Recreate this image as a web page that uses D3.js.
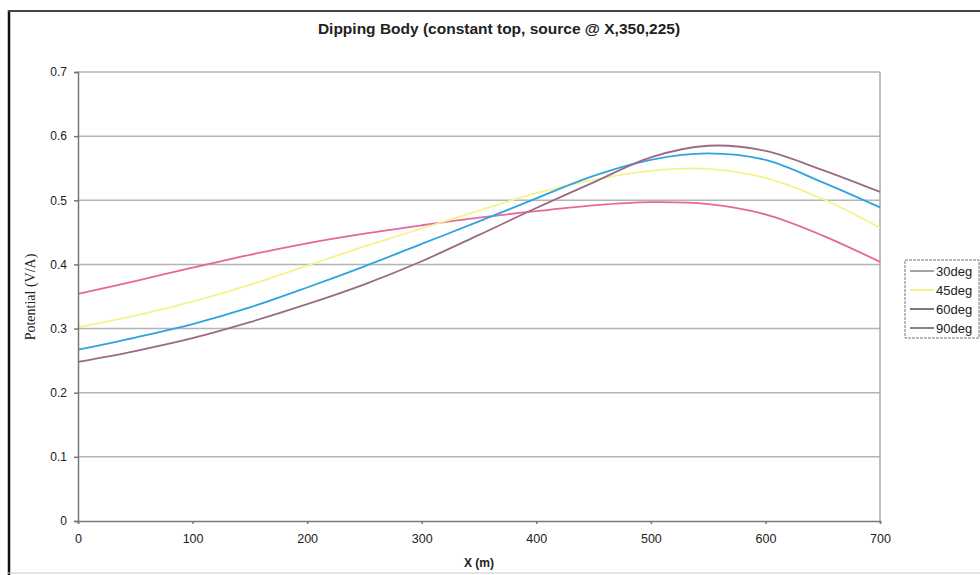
<!DOCTYPE html>
<html>
<head>
<meta charset="utf-8">
<script src="https://d3js.org/d3.v7.min.js"></script>
<style>
	body { margin: 0; background: #fff; }
	text { font-family: Arial, "Liberation Sans", sans-serif; fill: #222; }
	.grid line { stroke: #b4b4b4; stroke-width: 1.5; }
	.axis path, .axis line { stroke: #777; stroke-width: 1.5; }
	.axis text { font-size: 12px; }
	.series { fill: none; stroke-width: 1.8; }
</style>
</head>
<body>
<script>

// chart data
var xValues = [0, 50, 100, 150, 200, 250, 300, 350, 400, 450, 500, 550, 600, 650, 700];
var seriesNames = ["30deg", "45deg", "60deg", "90deg"];
var deg30 = [0.354, 0.374, 0.395, 0.415, 0.433, 0.448, 0.461, 0.473, 0.483, 0.492, 0.497, 0.494, 0.478, 0.445, 0.404];
var deg45 = [0.302, 0.320, 0.342, 0.368, 0.398, 0.428, 0.456, 0.484, 0.511, 0.532, 0.546, 0.549, 0.535, 0.502, 0.457];
var deg60 = [0.267, 0.286, 0.307, 0.333, 0.364, 0.397, 0.432, 0.467, 0.503, 0.538, 0.563, 0.573, 0.563, 0.528, 0.489];
var deg90 = [0.248, 0.265, 0.285, 0.310, 0.338, 0.369, 0.405, 0.446, 0.488, 0.528, 0.567, 0.585, 0.577, 0.547, 0.513];
var seriesColors = ["#e8669e", "#f4f28e", "#2fa3dc", "#9c6a84"];
var legendColors = ["#666", "#f4f28e", "#222", "#333"];
var xTicks = [0, 100, 200, 300, 400, 500, 600, 700];
var yTicks = [0, 0.1, 0.2, 0.3, 0.4, 0.5, 0.6, 0.7];

var allSeries = [deg30, deg45, deg60, deg90];

var width = 980, height = 575;
var plot = {left: 78, right: 880, top: 72, bottom: 521};

var svg = d3.select("body").append("svg")
	.attr("width", width)
	.attr("height", height);

// frame of the chart sheet
svg.append("line").attr("x1", 9).attr("x2", 9).attr("y1", 10).attr("y2", 575)
	.attr("stroke", "#111").attr("stroke-width", 2.5);
svg.append("line").attr("x1", 8).attr("x2", 980).attr("y1", 11).attr("y2", 11)
	.attr("stroke", "#3a4a44").attr("stroke-width", 2);
svg.append("line").attr("x1", 8).attr("x2", 980).attr("y1", 573).attr("y2", 573)
	.attr("stroke", "#ccc").attr("stroke-width", 1);

var x = d3.scaleLinear().domain([0, 700]).range([plot.left, plot.right]);
var y = d3.scaleLinear().domain([0, 0.7]).range([plot.bottom, plot.top]);

// gridlines
svg.append("g").attr("class", "grid")
	.selectAll("line")
	.data(yTicks.slice(1))
	.enter().append("line")
	.attr("x1", plot.left).attr("x2", plot.right)
	.attr("y1", function(d) { return y(d); })
	.attr("y2", function(d) { return y(d); });

// right edge of plot area
svg.append("line")
	.attr("x1", plot.right).attr("x2", plot.right)
	.attr("y1", plot.top).attr("y2", plot.bottom)
	.attr("stroke", "#aaa").attr("stroke-width", 1.5);

var line = d3.line()
	.x(function(d, i) { return x(xValues[i]); })
	.y(function(d) { return y(d); })
	.curve(d3.curveCatmullRom);

svg.append("g")
	.selectAll("path")
	.data(allSeries)
	.enter().append("path")
	.attr("class", "series")
	.attr("stroke", function(d, i) { return seriesColors[i]; })
	.attr("stroke-width", function(d, i) { return i == 1 ? 2.2 : 1.8; })
	.attr("d", line);

// axes
svg.append("g")
	.attr("class", "axis")
	.attr("transform", "translate(" + plot.left + ",0)")
	.call(d3.axisLeft(y).tickValues(yTicks).tickSize(4).tickPadding(7)
		.tickFormat(function(d) { return d == 0 ? "0" : d3.format(".1f")(d); }));

svg.append("g")
	.attr("class", "axis")
	.attr("transform", "translate(0," + plot.bottom + ")")
	.call(d3.axisBottom(x).tickValues(xTicks).tickSize(3).tickPadding(10))
	.selectAll("text").style("font-size", "12.5px");

svg.selectAll(".axis .domain").attr("stroke", "#666");

// titles
svg.append("text")
	.attr("x", 499).attr("y", 34)
	.attr("text-anchor", "middle")
	.style("font-size", "15.5px").style("font-weight", "bold")
	.text("Dipping Body (constant top, source @ X,350,225)");

svg.append("text")
	.attr("x", 479).attr("y", 567)
	.attr("text-anchor", "middle")
	.style("font-size", "12px").style("font-weight", "bold")
	.text("X (m)");

svg.append("text")
	.attr("transform", "translate(35,297) rotate(-90)")
	.attr("text-anchor", "middle")
	.style("font-family", "'Liberation Serif', 'DejaVu Serif', serif")
	.style("font-size", "14px")
	.text("Potential (V/A)");

// legend
var legend = svg.append("g").attr("transform", "translate(905,260)");
legend.append("rect")
	.attr("width", 74).attr("height", 78)
	.attr("fill", "#fff")
	.attr("stroke", "#777").attr("stroke-dasharray", "3,1");

var item = legend.selectAll(".item")
	.data(seriesNames)
	.enter().append("g")
	.attr("class", "item")
	.attr("transform", function(d, i) { return "translate(0," + (11 + i * 19) + ")"; });

item.append("line")
	.attr("x1", 5).attr("x2", 29)
	.attr("stroke", function(d, i) { return legendColors[i]; })
	.attr("stroke-width", function(d, i) { return i == 1 ? 2 : 1.2; });

item.append("text")
	.attr("x", 31).attr("dy", "0.35em")
	.style("font-size", "13px")
	.text(function(d) { return d; });

</script>
</body>
</html>
